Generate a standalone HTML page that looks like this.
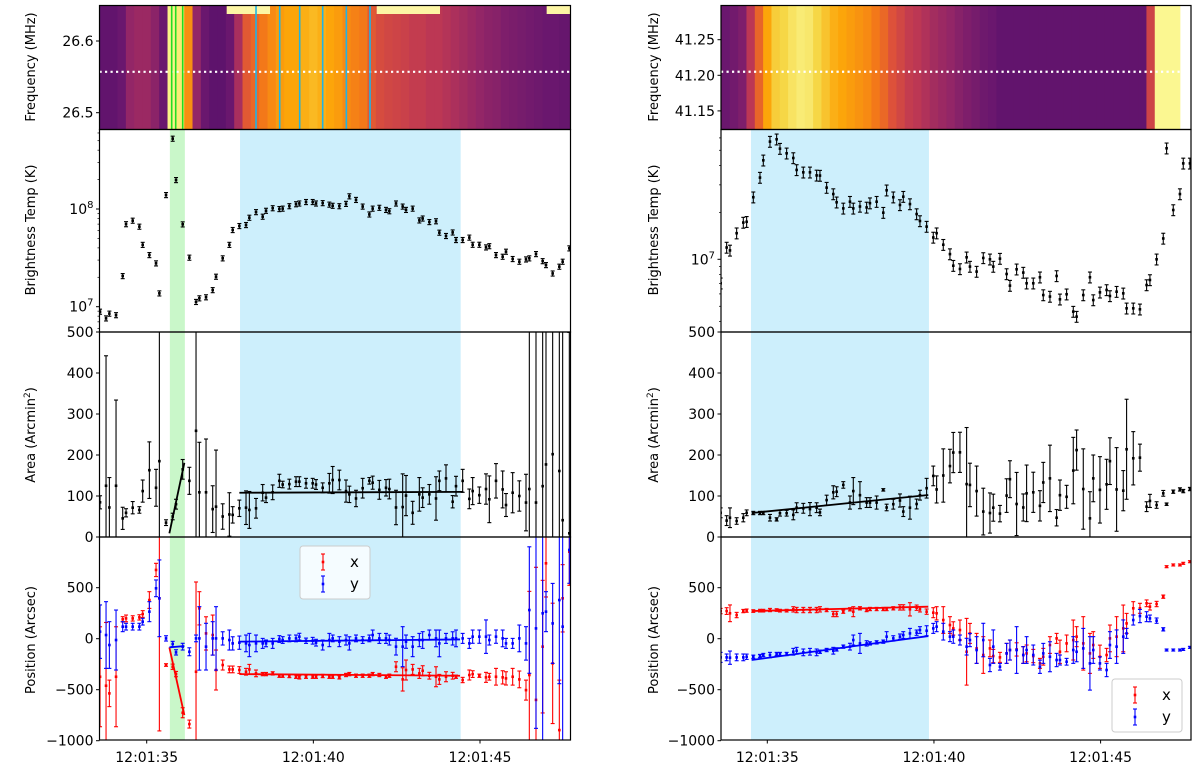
<!DOCTYPE html>
<html><head><meta charset="utf-8">
<style>
html,body{margin:0;padding:0;background:#fff;width:1200px;height:772px;overflow:hidden;}
svg{display:block;font-family:"DejaVu Sans","Liberation Sans",sans-serif;}
</style></head>
<body>
<svg id="fig" width="1200" height="772" viewBox="0 0 1200 772" xmlns="http://www.w3.org/2000/svg"></svg>
<script>
// ---------------- DATA ----------------
const leftTimes=[33.60,33.78,33.88,34.08,34.28,34.38,34.58,34.78,34.88,35.08,35.28,35.38,35.58,35.78,35.88,36.08,36.28,36.48,36.58,36.78,36.98,37.08,37.28,37.48,37.58,37.78,37.98,38.08,38.28,38.48,38.58,38.78,38.98,39.08,39.28,39.48,39.58,39.78,39.98,40.08,40.28,40.48,40.58,40.78,40.98,41.08,41.28,41.48,41.68,41.78,41.98,42.18,42.28,42.48,42.68,42.78,42.98,43.18,43.28,43.48,43.68,43.78,43.98,44.18,44.28,44.48,44.68,44.78,44.98,45.18,45.28,45.48,45.68,45.78,45.98,46.18,46.38,46.48,46.68,46.88,46.98,47.18,47.38,47.48,47.68];
const rightTimes=[33.60,33.78,33.88,34.08,34.28,34.38,34.58,34.78,34.88,35.08,35.28,35.38,35.58,35.78,35.88,36.08,36.28,36.48,36.58,36.78,36.98,37.08,37.28,37.48,37.58,37.78,37.98,38.08,38.28,38.48,38.58,38.78,38.98,39.08,39.28,39.48,39.58,39.78,39.98,40.08,40.28,40.48,40.58,40.78,40.98,41.08,41.28,41.48,41.68,41.78,41.98,42.18,42.28,42.48,42.68,42.78,42.98,43.18,43.28,43.48,43.68,43.78,43.98,44.18,44.28,44.48,44.68,44.78,44.98,45.18,45.28,45.48,45.68,45.78,45.98,46.18,46.38,46.48,46.68,46.88,46.98,47.18,47.38,47.48,47.68];

const leftBright=[8.9e6,7.6e6,8.5e6,8.2e6,2.06e7,7.0e7,7.6e7,6.6e7,4.3e7,3.38e7,2.78e7,1.37e7,1.39e8,5.25e8,1.98e8,6.97e7,3.18e7,1.12e7,1.22e7,1.25e7,1.48e7,2.03e7,3.13e7,4.3e7,6.1e7,6.7e7,6.86e7,8.15e7,9.3e7,8.35e7,9.6e7,1.02e8,1.0e8,1.01e8,1.07e8,1.12e8,1.14e8,1.18e8,1.18e8,1.14e8,1.15e8,1.11e8,1.08e8,1.07e8,1.13e8,1.35e8,1.24e8,1.06e8,8.8e7,1.01e8,1.03e8,9.8e7,9.5e7,1.14e8,1.06e8,9.8e7,1.01e8,7.65e7,8.0e7,7.36e7,7.5e7,5.73e7,5.3e7,5.76e7,4.82e7,4.82e7,5.1e7,4.31e7,4.31e7,4.05e7,4.17e7,3.38e7,3.25e7,3.66e7,3.08e7,2.89e7,3.05e7,3.13e7,3.46e7,2.93e7,2.67e7,2.19e7,2.57e7,2.89e7,3.96e7];
const rightBright=[7.02e6,1.19e7,1.14e7,1.47e7,1.72e7,1.74e7,2.5e7,3.34e7,4.31e7,5.68e7,5.88e7,5.12e7,4.78e7,4.46e7,3.74e7,3.61e7,3.61e7,3.45e7,3.44e7,2.88e7,2.62e7,2.32e7,2.12e7,2.34e7,2.12e7,2.18e7,2.15e7,2.29e7,2.34e7,1.99e7,2.77e7,2.5e7,2.23e7,2.52e7,2.26e7,1.95e7,1.76e7,1.62e7,1.38e7,1.47e7,1.24e7,1.08e7,9.1e6,8.67e6,1.03e7,8.98e6,8.34e6,1.02e7,1.0e7,8.98e6,1.01e7,8.05e6,6.78e6,8.63e6,8.22e6,7.02e6,7.02e6,7.67e6,5.9e6,5.77e6,7.82e6,5.54e6,5.97e6,4.62e6,4.29e6,5.9e6,7.67e6,5.48e6,6.14e6,6.36e6,5.82e6,6.2e6,6.05e6,4.85e6,4.85e6,4.78e6,6.84e6,7.37e6,1.0e7,1.36e7,5.15e7,2.07e7,2.62e7,4.12e7,4.12e7];
const leftBrightRelErr=0.06;
const rightBrightRelErr=0.08;

const leftArea=[84.6,125,72,125,45.5,59,71.5,66,112,163,120,185,35,50,80,165,137,259,109,109,68,74,50,55,54,70,71.5,66,70,108,96,109,137,128,129,135,135,131,131,128,120,131,139,139,112,104,94,119,137,132.5,115,120,117,72,73,101,59,104,96,104,94,137,143,86,124,137,93,112,102,117,92,137,116,78,108,100,84,117,84,124,177,202,161,41,9];
const leftAreaErr=[16,317,73,209,27,10,15,8,27,69,45,325,7,8,12,24,33,260,122,130,57,138,31,53,20,20,41,45,24,20,12,18,16,8,12,12,12,12,12,12,12,24,33,24,27,20,20,24,8,16,23,20,24,42,81,49,28,41,24,24,53,24,33,15,24,28,24,33,20,37,57,42,45,28,49,37,69,490,490,490,490,490,490,490,490];
const rightArea=[59,40,47,39,47,59,58.5,58.5,58.5,47,43,58,58,54,71.5,70,68,71.5,60,90,109,110.5,127,84,112,102,84,84,84,115,72,80,89,62,71.5,80.5,102,119,149,116,150,173,206,206.5,129,127,112,62,58.5,71.5,57,101,141,80.5,72,106.5,109,76,133,143,47,102,98,162,212,117,45.5,143,115,128.5,185,116,113,214,192,193.5,74,88,78,106.5,80,110.5,116,112,117];
const rightAreaErr=[12,12,24,8,10,7,4,4,4,8,4,7,7,12,12,12,16,12,8,12,16,12,8,16,33,33,12,12,16,3,8,12,16,12,28,12,12,24,24,33,65,41,49,49,138,53,61,57,49,33,20,41,45,77,33,69,49,37,49,81,20,37,28,81,49,98,65,57,81,61,57,102,49,122,65,33,12,16,8,7,3,4,4,4,4];

const leftPosX=[-373,-461,-536,-373,190,199,199,209,242,379,674,396,-258,-275,-347,-726,-837,-324,298,52,36,-307,-258,-301,-301,-307,-324,-301,-340,-347,-347,-340,-363,-363,-366,-373,-379,-373,-373,-373,-366,-373,-373,-379,-356,-347,-363,-363,-363,-347,-356,-373,-363,-275,-399,-307,-301,-340,-314,-363,-373,-399,-373,-363,-373,-405,-356,-347,-363,-379,-373,-373,-379,-389,-373,-399,-504,-356,-600,-78,739,-242,-896,396,853];
const leftPosXErr=[490,620,130,490,26,33,26,26,33,82,65,1300,13,26,26,49,39,880,163,163,196,196,49,33,33,33,33,49,33,16,16,16,16,16,16,16,16,16,16,16,16,16,16,16,16,16,16,16,16,16,16,16,16,49,114,98,49,49,49,33,98,49,49,33,16,26,49,33,16,49,33,82,65,65,82,82,98,820,1300,650,330,590,490,330,330];
const leftPosY=[69,36,-62,-13,118,118,118,118,167,265,494,396,3,-52,-134,-78,-128,3,3,-78,3,3,3,-13,-46,-39,-46,-62,-46,-46,-46,-46,-3,-13,3,3,20,-20,-20,-39,-62,-13,3,-29,-13,-46,3,-13,3,36,3,3,-13,-78,-78,-29,-78,-13,-13,36,3,-46,3,3,3,3,-46,20,20,20,-13,20,3,-46,-46,3,-46,281,101,249,265,150,379,118,870];
const leftPosYErr=[262,327,229,294,49,33,33,33,33,98,82,376,26,26,26,33,39,33,311,229,164,311,65,98,65,65,82,114,82,49,33,49,33,33,33,33,33,26,33,33,49,65,33,49,49,65,33,33,33,49,49,49,49,82,196,65,98,65,82,49,82,131,49,65,82,49,49,65,65,164,49,65,82,49,49,131,164,620,980,1300,196,392,820,1140,327];
const rightPosX=[271,271,249,232,271,275,271,275,275,281,281,275,275,288,281,281,281,281,288,281,242,242,265,288,265,298,281,291,291,291,291,298,307,307,288,304,288,265,255,249,183,134,101,85,-128,52,-95,-160,-95,-170,-183,-144,-111,-105,-160,-144,-170,-242,-177,-62,3,-128,-46,-13,20,-46,-144,-62,-177,-160,3,20,101,150,298,298,347,314,340,412,706,723,723,739,755];
const rightPosXErr=[26,33,82,26,16,16,13,13,13,16,13,13,13,26,26,26,26,26,26,16,26,26,16,16,49,16,16,16,16,16,16,16,26,26,65,26,26,26,49,65,131,82,65,98,327,98,147,180,82,65,49,98,98,65,82,82,65,49,82,82,49,114,82,196,98,262,196,131,114,65,131,196,229,98,65,49,33,33,26,16,10,10,10,10,10];
const rightPosY=[-183,-183,-186,-183,-183,-177,-177,-170,-160,-160,-150,-150,-150,-128,-118,-134,-128,-134,-128,-111,-118,-105,-78,-78,-13,-46,-46,-46,-36,-29,20,3,20,36,52,59,85,78,101,118,69,20,20,-13,-78,-13,-111,-13,-258,-78,-275,-144,-111,-111,-160,-111,-160,-275,-144,-177,-209,-209,-226,-111,-128,-95,-242,-111,-242,-307,-62,-78,20,52,183,222,216,199,177,92,-111,-111,-111,-105,-85];
const rightPosYErr=[49,33,65,33,33,26,16,16,16,26,16,16,16,33,33,33,33,33,16,16,33,16,16,33,49,98,26,16,16,16,49,26,26,33,49,26,33,49,49,49,82,49,65,49,82,65,131,164,65,164,33,98,98,229,82,131,98,65,98,147,65,49,33,131,98,196,262,131,65,65,131,164,164,49,49,65,49,33,26,16,10,10,10,10,10];

// fits
const leftAreaFitGreenT=[35.68,36.13], leftAreaFitGreenV=[9,181];
const leftAreaFitBlueT=[37.78,44.5], leftAreaFitBlueV=[108,110];
const leftPosFitGreenT=[35.68,36.13], leftPosFitGreenX=[-85,-749], leftPosFitGreenY=[-85,-72];
const leftPosFitBlueT=[37.78,44.4], leftPosFitBlueX=[-347,-363], leftPosFitBlueY=[-29,-7];
const rightAreaFitT=[34.53,39.83], rightAreaFitV=[58.5,102.5];
const rightPosFitT=[34.53,39.83], rightPosFitX=[271,314], rightPosFitY=[-209,26];

// intervals
const leftGreenBand=[35.695,36.145], leftBlueBand=[37.8,44.42], rightBlueBand=[34.51,39.85];
const leftGreenLines=[35.75,35.87,36.08];
const leftCyanLines=[38.28,38.99,39.59,40.28,40.99,41.70];
const leftMaskBars=[[37.4,38.7],[41.9,43.8],[47.0,47.75]];

// spectrogram column intensities (0..1), 0.25 s steps starting at 33.5 s
const specStart=33.5, specStep=0.25;
const leftSpec=[0.27,0.28,0.28,0.3,0.4,0.42,0.42,0.38,0.3,0.97,0.95,0.75,0.4,0.3,0.27,0.27,0.3,0.45,0.62,0.66,0.7,0.74,0.78,0.8,0.8,0.82,0.84,0.82,0.8,0.78,0.74,0.72,0.7,0.62,0.58,0.56,0.55,0.54,0.52,0.52,0.5,0.5,0.48,0.46,0.44,0.42,0.4,0.38,0.37,0.35,0.34,0.33,0.32,0.31,0.3,0.3,0.29,0.29];
const rightSpec=[0.3,0.3,0.32,0.35,0.5,0.65,0.8,0.88,0.9,0.93,0.95,0.94,0.9,0.86,0.82,0.8,0.78,0.76,0.74,0.7,0.66,0.6,0.56,0.52,0.5,0.47,0.44,0.42,0.4,0.37,0.35,0.33,0.31,0.3,0.28,0.28,0.28,0.28,0.28,0.28,0.28,0.28,0.28,0.28,0.28,0.28,0.28,0.28,0.28,0.28,0.28,0.28,0.55,0.98,0.98,0.98];

const leftFreqTicks=[26.6,26.5], rightFreqTicks=[41.25,41.20,41.15];
const leftFreqLine=26.557, rightFreqLine=41.205;
const timeTicks=[35,40,45], timeTickLabels=["12:01:35","12:01:40","12:01:45"];
const areaTicks=[0,100,200,300,400,500];
const posTicks=[-1000,-500,0,500];

// ---------------- LAYOUT ----------------
const svg=document.getElementById('fig');
const NS='http://www.w3.org/2000/svg';
function el(tag,attrs,parent){const e=document.createElementNS(NS,tag);for(const k in attrs)e.setAttribute(k,attrs[k]);(parent||svg).appendChild(e);return e;}
const ROWS={spec:[5.5,129.5],bright:[129.5,332],area:[332,537],pos:[537,740]};
const COLS={left:{x0:99.5,x1:570.5,t35:146.7},right:{x0:721,x1:1191,t35:767.3}};
const PXS=33.33;
function xs(col,t){return COLS[col].t35+(t-35)*PXS;}
const yScale={
 leftSpec:f=>41+(26.6-f)*717,
 rightSpec:f=>39.7+(41.25-f)*712,
 leftBright:v=>209-(Math.log10(v)-8)*97.7,
 rightBright:v=>259.3-(Math.log10(v)-7)*156,
 area:v=>537-v*0.41,
 pos:v=>638.7-v*0.102
};
const INF=[[0,[0,0,4]],[0.1,[22,11,57]],[0.2,[66,10,104]],[0.3,[106,23,110]],[0.4,[147,38,103]],[0.5,[188,55,84]],[0.6,[221,81,58]],[0.7,[243,120,25]],[0.8,[252,165,10]],[0.9,[246,215,70]],[1,[252,255,164]]];
function inferno(v){v=Math.max(0,Math.min(1,v));for(let i=1;i<INF.length;i++){if(v<=INF[i][0]){const a=INF[i-1],b=INF[i],f=(v-a[0])/(b[0]-a[0]);const c=a[1].map((x,j)=>Math.round(x+(b[1][j]-x)*f));return `rgb(${c.join(',')})`;}}return 'rgb(252,255,164)';}

let clipId=0;
function panel(col,row,name){
  const c=COLS[col],r=ROWS[row];
  const id='clip'+(clipId++);
  const cp=el('clipPath',{id:id});
  el('rect',{x:c.x0,y:r[0],width:c.x1-c.x0,height:r[1]-r[0]},cp);
  const g=el('g',{'clip-path':`url(#${id})`});
  
  
  g._row=row;
  return g;
}
function frame(col,row,name){
  const c=COLS[col],r=ROWS[row];
  const f=el('rect',{x:c.x0,y:r[0],width:c.x1-c.x0,height:r[1]-r[0],fill:'none',stroke:'#000','stroke-width':1.2});
  
  
}
function ytick(col,y,label,name,minor){
  const x=COLS[col].x0;
  el('line',{x1:x-(minor?2:3.5),x2:x,y1:y,y2:y,stroke:'#000','stroke-width':minor?0.7:1});
  if(label!==null){
    const t=el('text',{x:x-6,y:y+5,'text-anchor':'end','font-size':14,fill:'#000'});
    
    
    if(typeof label==='object'){t.textContent=label[0];const s=el('tspan',{dy:-6,'font-size':10},t);s.textContent=label[1];}
    else t.textContent=label;
  }
}
function ylabel(x,y,text,name){
  const t=el('text',{x:x,y:y,'text-anchor':'middle','font-size':13,transform:`rotate(-90 ${x} ${y})`,fill:'#000'});
  
  
  t.innerHTML=text;
}
function band(g,col,row,rng,color,name){
  const r=ROWS[row];
  const b=el('rect',{x:xs(col,rng[0]),y:r[0],width:xs(col,rng[1])-xs(col,rng[0]),height:r[1]-r[0],fill:color},g);
  
  
}
function errorbars(g,col,times,vals,lo,hi,ys,color,name){
  const grp=el('g',{},g);
  
  
  const r=ROWS[g._row],top=r[0]-3,bot=r[1]+3;
  const cl=v=>Math.max(top,Math.min(bot,v));
  for(let i=0;i<times.length;i++){
    const x=xs(col,times[i]),y=ys(vals[i]),ry1=ys(lo[i]),ry2=ys(hi[i]);
    const y1=cl(ry1),y2=cl(ry2);
    el('line',{x1:x,x2:x,y1:y1,y2:y2,stroke:color,'stroke-width':1.1},grp);
    if(ry1===y1)el('line',{x1:x-2,x2:x+2,y1:y1,y2:y1,stroke:color,'stroke-width':1.1},grp);
    if(ry2===y2)el('line',{x1:x-2,x2:x+2,y1:y2,y2:y2,stroke:color,'stroke-width':1.1},grp);
    if(y>=top&&y<=bot){
      const m=el('rect',{x:x-1.3,y:y-1.3,width:2.6,height:2.6,fill:color},grp);
      
      
    }
  }
}
function fitLine(g,col,ts,vs,ys,color,name){
  const l=el('line',{x1:xs(col,ts[0]),x2:xs(col,ts[1]),y1:ys(vs[0]),y2:ys(vs[1]),stroke:color,'stroke-width':1.8},g);
  
  
}

// ---------------- SPECTROGRAMS ----------------
function spectrogram(col,arr,freqLine,ysf,name){
  const g=panel(col,'spec',name);
  const r=ROWS.spec,c=COLS[col];
  arr.forEach((v,i)=>{
    const t=specStart+i*specStep;
    let x0=Math.max(c.x0,xs(col,t-specStep/2)),x1=Math.min(c.x1,xs(col,t+specStep/2)+0.6);
    if(x1>x0)el('rect',{x:x0,y:r[0],width:x1-x0,height:r[1]-r[0],fill:inferno(v)},g);
  });
  const dl=el('line',{x1:c.x0,x2:c.x1,y1:ysf(freqLine),y2:ysf(freqLine),stroke:'#fff','stroke-width':2.2,'stroke-dasharray':'2.2 3.3'},g);
  
  
  return g;
}
const gls=spectrogram('left',leftSpec,leftFreqLine,yScale.leftSpec,'left-spectrogram');
leftMaskBars.forEach(b=>{
  const x0=xs('left',b[0]),x1=Math.min(COLS.left.x1,xs('left',b[1]));
  const r=el('rect',{x:x0,y:6,width:x1-x0,height:8,fill:'#fcf5a4'},gls);
  
  
});
leftGreenLines.forEach(t=>{
  const l=el('line',{x1:xs('left',t),x2:xs('left',t),y1:5.5,y2:129.5,stroke:'#22dd22','stroke-width':1.6},gls);
  
  
});
leftCyanLines.forEach(t=>{
  const l=el('line',{x1:xs('left',t),x2:xs('left',t),y1:5.5,y2:129.5,stroke:'#1cb4e8','stroke-width':1.6},gls);
  
  
});
spectrogram('right',rightSpec,rightFreqLine,yScale.rightSpec,'right-spectrogram');

// ---------------- BRIGHTNESS ----------------
function brightPanel(col,times,vals,rel,ysf,bands){
  const g=panel(col,'bright',col+'-brightness-panel');
  bands.forEach(b=>band(g,col,'bright',b[0],b[1],b[2]));
  errorbars(g,col,times,vals,vals.map(v=>v*(1-rel)),vals.map(v=>v*(1+rel)),ysf,'#000',col+'-brightness-series');
}
brightPanel('left',leftTimes,leftBright,leftBrightRelErr,yScale.leftBright,[[leftGreenBand,'#c9f7c9','green-interval'],[leftBlueBand,'#cdeffc','blue-interval']]);
brightPanel('right',rightTimes,rightBright,rightBrightRelErr,yScale.rightBright,[[rightBlueBand,'#cdeffc','blue-interval']]);

// ---------------- AREA ----------------
const gla=panel('left','area','left-area-panel');
band(gla,'left','area',leftGreenBand,'#c9f7c9','green-interval');
band(gla,'left','area',leftBlueBand,'#cdeffc','blue-interval');
errorbars(gla,'left',leftTimes,leftArea,leftArea.map((v,i)=>v-leftAreaErr[i]),leftArea.map((v,i)=>v+leftAreaErr[i]),yScale.area,'#000','left-area-series');
fitLine(gla,'left',leftAreaFitGreenT,leftAreaFitGreenV,yScale.area,'#000','area-fit-green');
fitLine(gla,'left',leftAreaFitBlueT,leftAreaFitBlueV,yScale.area,'#000','area-fit-blue');
const gra=panel('right','area','right-area-panel');
band(gra,'right','area',rightBlueBand,'#cdeffc','blue-interval');
errorbars(gra,'right',rightTimes,rightArea,rightArea.map((v,i)=>v-rightAreaErr[i]),rightArea.map((v,i)=>v+rightAreaErr[i]),yScale.area,'#000','right-area-series');
fitLine(gra,'right',rightAreaFitT,rightAreaFitV,yScale.area,'#000','area-fit');

// ---------------- POSITION ----------------
const glp=panel('left','pos','left-position-panel');
band(glp,'left','pos',leftGreenBand,'#c9f7c9','green-interval');
band(glp,'left','pos',leftBlueBand,'#cdeffc','blue-interval');
errorbars(glp,'left',leftTimes,leftPosX,leftPosX.map((v,i)=>v-leftPosXErr[i]),leftPosX.map((v,i)=>v+leftPosXErr[i]),yScale.pos,'#ff0000','left-position-x-series');
errorbars(glp,'left',leftTimes,leftPosY,leftPosY.map((v,i)=>v-leftPosYErr[i]),leftPosY.map((v,i)=>v+leftPosYErr[i]),yScale.pos,'#0000ff','left-position-y-series');
fitLine(glp,'left',leftPosFitGreenT,leftPosFitGreenX,yScale.pos,'#ff0000','x-fit-green');
fitLine(glp,'left',leftPosFitGreenT,leftPosFitGreenY,yScale.pos,'#0000ff','y-fit-green');
fitLine(glp,'left',leftPosFitBlueT,leftPosFitBlueX,yScale.pos,'#ff0000','x-fit-blue');
fitLine(glp,'left',leftPosFitBlueT,leftPosFitBlueY,yScale.pos,'#0000ff','y-fit-blue');
const grp=panel('right','pos','right-position-panel');
band(grp,'right','pos',rightBlueBand,'#cdeffc','blue-interval');
errorbars(grp,'right',rightTimes,rightPosX,rightPosX.map((v,i)=>v-rightPosXErr[i]),rightPosX.map((v,i)=>v+rightPosXErr[i]),yScale.pos,'#ff0000','right-position-x-series');
errorbars(grp,'right',rightTimes,rightPosY,rightPosY.map((v,i)=>v-rightPosYErr[i]),rightPosY.map((v,i)=>v+rightPosYErr[i]),yScale.pos,'#0000ff','right-position-y-series');
fitLine(grp,'right',rightPosFitT,rightPosFitX,yScale.pos,'#ff0000','x-fit');
fitLine(grp,'right',rightPosFitT,rightPosFitY,yScale.pos,'#0000ff','y-fit');

// ---------------- FRAMES, TICKS, LABELS ----------------
['left','right'].forEach(col=>{
  ['spec','bright','area','pos'].forEach(row=>frame(col,row,col+'-'+row+'-frame'));
  timeTicks.forEach((t,i)=>{
    const x=xs(col,t);
    el('line',{x1:x,x2:x,y1:740,y2:743.5,stroke:'#000','stroke-width':1});
    const tx=el('text',{x:x,y:762,'text-anchor':'middle','font-size':14,fill:'#000'});
    
    
    tx.textContent=timeTickLabels[i];
  });
  areaTicks.forEach(v=>ytick(col,yScale.area(v),String(v),'area-tick-label'));
  posTicks.forEach(v=>ytick(col,yScale.pos(v),v<0?'\u2212'+Math.abs(v):String(v),'position-tick-label'));
});
leftFreqTicks.forEach(f=>ytick('left',yScale.leftSpec(f),f.toFixed(1),'frequency-tick-label'));
rightFreqTicks.forEach(f=>ytick('right',yScale.rightSpec(f),f.toFixed(2),'frequency-tick-label'));
function logTicks(col,ysf){
  for(let d=6;d<=9;d++){
    for(let k=1;k<10;k++){
      const v=k*Math.pow(10,d),y=ysf(v);
      if(y<ROWS.bright[0]||y>ROWS.bright[1])continue;
      if(k===1)ytick(col,y,['10',String(d)],'brightness-tick-label');
      else ytick(col,y,null,'minor-tick',true);
    }
  }
}
logTicks('left',yScale.leftBright);
logTicks('right',yScale.rightBright);

ylabel(35,67,'Frequency (MHz)','left-frequency-axis-title');
ylabel(35,230,'Brightness Temp (K)','left-brightness-axis-title');
ylabel(35,435,'Area (Arcmin<tspan dy="-5" font-size="9">2</tspan><tspan dy="5">)</tspan>','left-area-axis-title');
ylabel(35,640,'Position (Arcsec)','left-position-axis-title');
ylabel(658,67,'Frequency (MHz)','right-frequency-axis-title');
ylabel(658,230,'Brightness Temp (K)','right-brightness-axis-title');
ylabel(658,435,'Area (Arcmin<tspan dy="-5" font-size="9">2</tspan><tspan dy="5">)</tspan>','right-area-axis-title');
ylabel(658,640,'Position (Arcsec)','right-position-axis-title');

function legend(x,y,name){
  const g=el('g',{});
  
  
  el('rect',{x:x,y:y,width:70,height:53,rx:3,fill:'#fff','fill-opacity':0.8,stroke:'#ccc','stroke-width':1},g);
  [['x','#ff0000',y+16],['y','#0000ff',y+38]].forEach(e=>{
    const cx=x+23,cy=e[2];
    el('line',{x1:cx,x2:cx,y1:cy-8,y2:cy+8,stroke:e[1],'stroke-width':1.1},g);
    el('line',{x1:cx-2,x2:cx+2,y1:cy-8,y2:cy-8,stroke:e[1],'stroke-width':1.1},g);
    el('line',{x1:cx-2,x2:cx+2,y1:cy+8,y2:cy+8,stroke:e[1],'stroke-width':1.1},g);
    el('rect',{x:cx-1.3,y:cy-1.3,width:2.6,height:2.6,fill:e[1]},g);
    const t=el('text',{x:x+50,y:cy+5,'font-size':15,fill:'#000'},g);
    
    
    t.textContent=e[0];
  });
}
legend(300,546,'left-legend');
legend(1112,679,'right-legend');
</script>
</body></html>
